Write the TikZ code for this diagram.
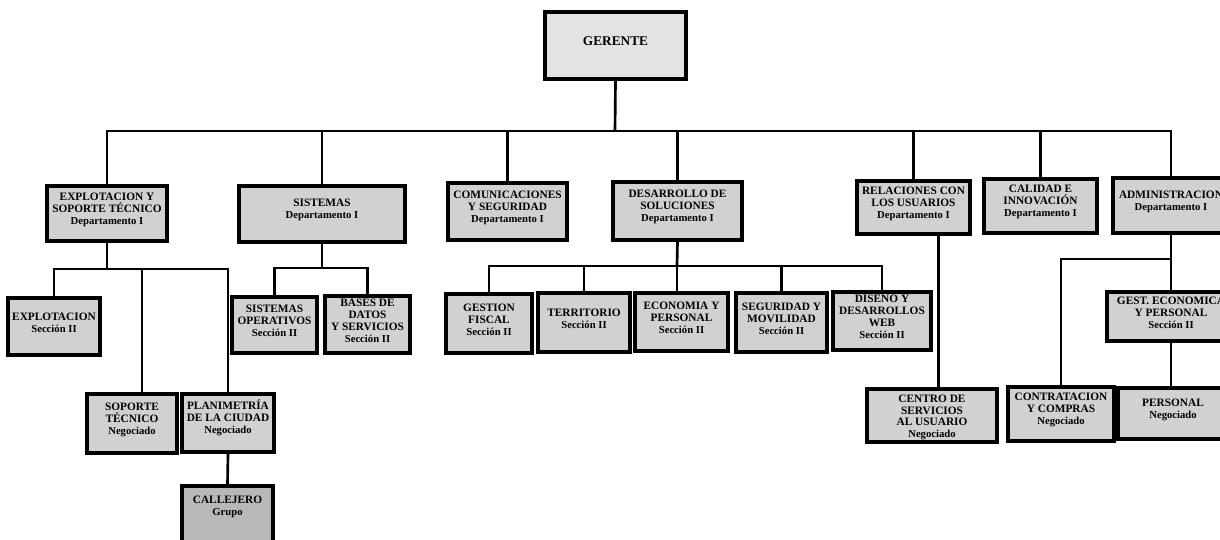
\documentclass[tikz,border=0pt]{standalone}
\usepackage{fontspec}
\setmainfont{Liberation Serif}
\usetikzlibrary{fit}
\pgfdeclarelayer{background}
\pgfsetlayers{background,main}
\newcommand\sub[1]{{\fontsize{8}{9}\selectfont #1}}
\tikzset{
  orgbox/.style={draw=black, line width=2.3pt, fill=black!18, inner sep=0pt, align=center,
    font=\bfseries\fontsize{8.5}{9}\selectfont},
  topbox/.style={orgbox, fill=black!11, font=\bfseries\fontsize{10}{11}\selectfont},
  darkbox/.style={orgbox, fill=black!28},
  conn/.style={draw=black, line width=2pt}
}
\begin{document}
\begin{tikzpicture}[x=0.75pt,y=-0.75pt]
\useasboundingbox (0,0) rectangle (1220,539);
\clip (0,0) rectangle (1220,539);

% level 0
\node[topbox, fit={(545,12) (686,79)}] (ger) {GERENTE};

% level 1
\node[orgbox, fit={(47,186) (167,241)}] (exp) {EXPLOTACION Y\\SOPORTE TÉCNICO\\\sub{Departamento I}};
\node[orgbox, fit={(239,186) (405,242)}] (sis) {SISTEMAS\\\sub{Departamento I}};
\node[orgbox, fit={(448,183) (567,240)}] (com) {COMUNICACIONES\\Y SEGURIDAD\\\sub{Departamento I}};
\node[orgbox, fit={(613,182) (742,240)}] (des) {DESARROLLO DE\\SOLUCIONES\\\sub{Departamento I}};
\node[orgbox, fit={(857,181) (970,234)}] (rel) {RELACIONES CON\\LOS USUARIOS\\\sub{Departamento I}};
\node[orgbox, fit={(984,179) (1097,233)}] (cal) {CALIDAD E\\INNOVACIÓN\\\sub{Departamento I}};
\node[orgbox, fit={(1113,178) (1229,233)}] (adm) {ADMINISTRACION\\\sub{Departamento I}};

% level 2 - explotacion
\node[orgbox, fit={(8,298) (100,355)}] (expl) {EXPLOTACION\\\sub{Sección II}};
\node[orgbox, fit={(87,394) (177,453)}] (sop) {SOPORTE\\TÉCNICO\\\sub{Negociado}};
\node[orgbox, fit={(182,394) (274,452)}] (pla) {PLANIMETRÍA\\DE LA CIUDAD\\\sub{Negociado}};
\node[darkbox, fit={(182,486) (273,548)}] (cll) {\raisebox{4pt}{\begin{tabular}{@{}c@{}}CALLEJERO\\\sub{Grupo}\end{tabular}}};

% level 2 - sistemas
\node[orgbox, fit={(232,297) (317,353)}] (sop2) {SISTEMAS\\OPERATIVOS\\\sub{Sección II}};
\node[orgbox, fit={(325,296) (410,353)}] (bdd) {BASES DE\\DATOS\\Y SERVICIOS\\\sub{Sección II}};

% level 2 - desarrollo
\node[orgbox, fit={(446,294) (532,353)}] (gf) {GESTION\\FISCAL\\\sub{Sección II}};
\node[orgbox, fit={(538,293) (630,352)}] (ter) {TERRITORIO\\\sub{Sección II}};
\node[orgbox, fit={(635,293) (728,351)}] (eco) {ECONOMIA Y\\PERSONAL\\\sub{Sección II}};
\node[orgbox, fit={(736,293) (827,352)}] (seg) {SEGURIDAD Y\\MOVILIDAD\\\sub{Sección II}};
\node[orgbox, fit={(833,292) (931,350)}] (dis) {DISEÑO Y\\DESARROLLOS\\WEB\\\sub{Sección II}};

% level 2 - relaciones
\node[orgbox, fit={(867,389) (997,442)}] (cen) {\raisebox{-3.5pt}[0pt][0pt]{\fontsize{8.5}{8.6}\selectfont\begin{tabular}{@{}c@{}}CENTRO DE\\SERVICIOS\\AL USUARIO\\\sub{Negociado}\end{tabular}}};

% level 2/3 - administracion
\node[orgbox, fit={(1107,292) (1235,341)}] (ge) {GEST. ECONOMICA\\Y PERSONAL\\\sub{Sección II}};
\node[orgbox, fit={(1008,387) (1114,441)}] (con) {CONTRATACION\\Y COMPRAS\\\sub{Negociado}};
\node[orgbox, fit={(1118,388) (1228,439)}] (per) {PERSONAL\\\sub{Negociado}};

% bus coordinates
\coordinate (tb) at (615,131);
\coordinate (eb) at (107,269);
\coordinate (sb) at (322,268);
\coordinate (db) at (677,266);
\coordinate (ab) at (1171,259);

\begin{pgfonlayer}{background}
\fill[white] (0,0) rectangle (1220,539);
% connectors level 0 -> 1
\draw[conn] (ger.south) -- (tb);
\draw[conn] (exp.north) |- (tb) -| (adm.north);
\draw[conn] (sis.north) -- (sis.north |- tb);
\draw[conn] (com.north) -- (com.north |- tb);
\draw[conn] (des.north) -- (des.north |- tb);
\draw[conn] (rel.north) -- (rel.north |- tb);
\draw[conn] (cal.north) -- (cal.north |- tb);

% explotacion group
\draw[conn] (exp.south) -- (eb);
\draw[conn] (expl.north) |- (eb) -| (pla.north);
\draw[conn] ([xshift=7.5pt]sop.north) -- ([xshift=7.5pt]sop.north |- eb);
\draw[conn] (pla.south) -- (cll.north);

% sistemas group
\draw[conn] (sis.south) -- (sb);
\draw[conn] (sop2.north) |- (sb) -| (bdd.north);

% desarrollo group
\draw[conn] (des.south) -- (db);
\draw[conn] (gf.north) |- (db) -| (dis.north);
\draw[conn] (ter.north) -- (ter.north |- db);
\draw[conn] (db) -- (db |- eco.north);
\draw[conn] (seg.north) -- (seg.north |- db);

% relaciones
\draw[conn] ([xshift=18.5pt]rel.south) -- ([xshift=18.5pt]rel.south |- cen.north);

% administracion group
\draw[conn] (adm.south) -- (ge.north);
\draw[conn] (con.north) |- (ab);
\draw[conn] (ge.south) -- (ge.south |- per.north);
\end{pgfonlayer}
\end{tikzpicture}
\end{document}
